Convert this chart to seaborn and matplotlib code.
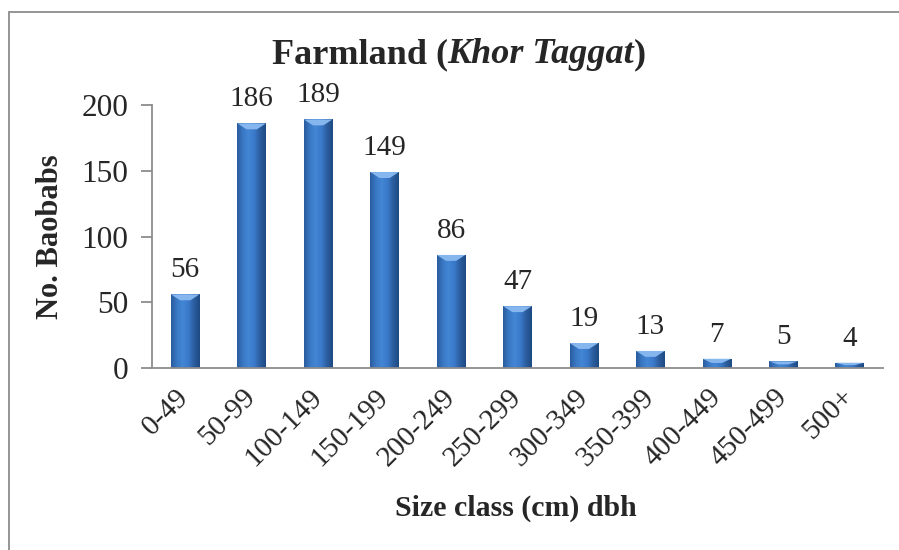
import numpy as np
import pandas as pd
import matplotlib
matplotlib.use('Agg')
import matplotlib.pyplot as plt
from matplotlib.colors import LinearSegmentedColormap
from matplotlib.patches import Rectangle, Polygon
import seaborn as sns

# data
size_classes = ['0-49', '50-99', '100-149', '150-199', '200-249', '250-299',
                '300-349', '350-399', '400-449', '450-499', '500+']
counts = [56, 186, 189, 149, 86, 47, 19, 13, 7, 5, 4]

df = pd.DataFrame({'size_class': size_classes, 'count': counts})

sns.set_style('white')
plt.rcParams['font.family'] = ['Liberation Serif', 'DejaVu Serif']

fig = plt.figure(figsize=(8.99, 5.5), dpi=100)
ax = fig.add_axes([152 / 899, 1 - 368 / 550, 731 / 899, 263 / 550])

sns.barplot(data=df, x='size_class', y='count', color='#3f7fcf', width=0.43,
            saturation=1, ax=ax)

# cylinder-like shading on each bar
cyl = LinearSegmentedColormap.from_list(
    'cyl', ['#2a5c9e', '#3a78c4', '#4386d4', '#3b7acb', '#2c5e9f', '#1e4a82'])
grad = np.linspace(0, 1, 64).reshape(1, -1)
for p in list(ax.patches):
    x0, w, h = p.get_x(), p.get_width(), p.get_height()
    # soft shadow
    ax.add_patch(Rectangle((x0 + 0.015, -1.2), w, h + 0.6, color='#9a9a9a',
                           alpha=0.35, zorder=p.get_zorder() - 0.1, lw=0))
    im = ax.imshow(grad, cmap=cyl, aspect='auto', extent=[x0, x0 + w, 0, h],
                   zorder=p.get_zorder() + 0.1, interpolation='bilinear')
    im.set_clip_path(p)
    # lighter top cap
    d = min(4.5, h * 0.45)
    cap = Polygon([[x0, h], [x0 + w, h], [x0 + 0.68 * w, h - d], [x0 + 0.32 * w, h - d]],
                  closed=True, color='#86b6ee', lw=0, zorder=p.get_zorder() + 0.2)
    ax.add_patch(cap)

ax.set_xlim(-0.5, len(size_classes) - 0.5)
ax.set_ylim(0, 200)
ax.set_yticks([0, 50, 100, 150, 200])

for s in ['top', 'right']:
    ax.spines[s].set_visible(False)
for s in ['left', 'bottom']:
    ax.spines[s].set_color('#8c8c8c')
    ax.spines[s].set_linewidth(1.3)
ax.spines['bottom'].set_zorder(5)

ax.tick_params(axis='y', which='major', length=8, width=1.3, color='#8c8c8c',
               direction='out', labelsize=22.5, pad=9, left=True)
ax.tick_params(axis='x', length=0, labelsize=21, pad=18)
plt.setp(ax.get_xticklabels(), rotation=45, ha='right', va='center',
         rotation_mode='anchor')

# value labels
for i, v in enumerate(counts):
    ax.annotate(str(v), (i, v), xytext=(0, 8), textcoords='offset points',
                ha='center', va='bottom', fontsize=21)

ax.set_xlabel('')
ax.set_ylabel('No. Baobabs', fontsize=22, fontweight='bold')
ax.yaxis.set_label_coords(-0.119, 0.5)

fig.text(516 / 899, 1 - 508 / 550, 'Size class (cm) dbh', fontsize=21.5,
         fontweight='bold', ha='center', va='center')

# title with italic part
fig.canvas.draw()
r = fig.canvas.get_renderer()
parts = [('Farmland (', 'normal'), ('Khor Taggat', 'italic'), (')', 'normal')]
texts = []
for s, st in parts:
    t = fig.text(0, 1 - 63 / 550, s, fontsize=26, fontweight='bold', style=st,
                 ha='left', va='baseline')
    texts.append(t)
widths = [t.get_window_extent(r).width for t in texts]
total = sum(widths)
x = 459 - total / 2
for t, wd in zip(texts, widths):
    t.set_x(x / 899)
    x += wd

# chart frame
fig.add_artist(Rectangle((9 / 899, -0.1), 1.2, 1 - 12 / 550 + 0.1,
                         transform=fig.transFigure, fill=False,
                         edgecolor='#8c8c8c', lw=1.3))

fig.savefig('out.png', dpi=100)
